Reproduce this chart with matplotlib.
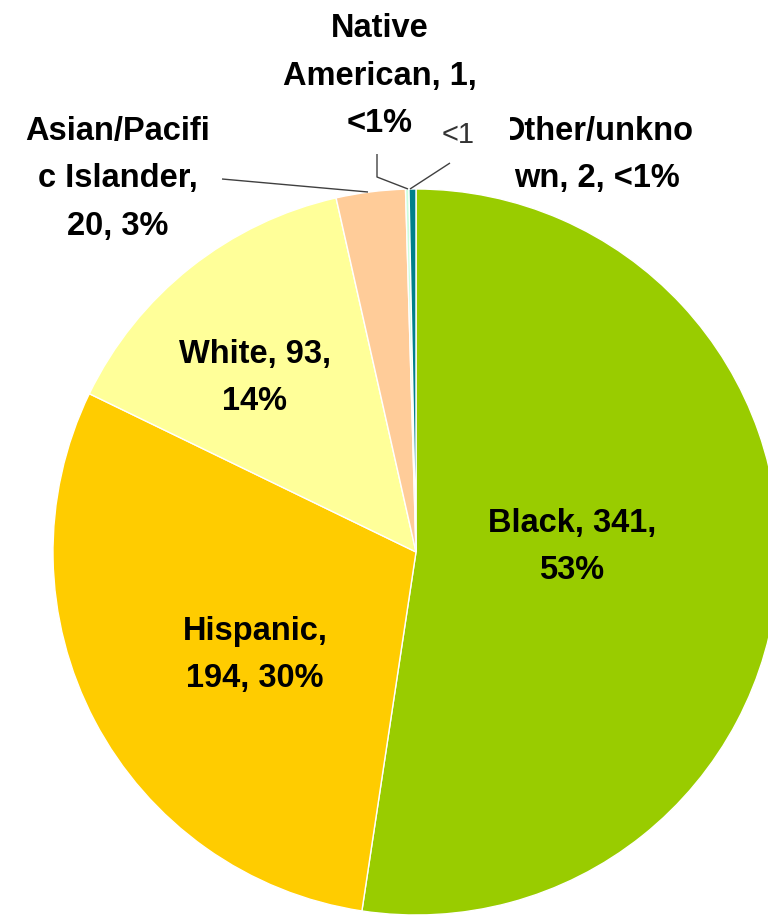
import numpy as np
import matplotlib
matplotlib.use("Agg")
import matplotlib.pyplot as plt
from matplotlib.patches import Rectangle

groups = ["Black", "Hispanic", "White", "Asian/Pacific Islander",
          "Native American", "Other/unknown"]
counts = [341, 194, 93, 20, 1, 2]
pct_text = ["53%", "30%", "14%", "3%", "<1%", "<1%"]
colors = ["#99CC00", "#FFCC00", "#FFFF99", "#FFCC99", "#CCFFDD", "#00808A"]

W, H = 768, 920
fig = plt.figure(figsize=(W / 100, H / 100), dpi=100)
ax = fig.add_axes([0, 0, 1, 1])

cx, cy, r = 416, H - 553, 363
ax.pie(counts, colors=colors, startangle=90, counterclock=False,
       center=(cx, cy), radius=r, frame=True,
       wedgeprops=dict(edgecolor="white", linewidth=1.0))
ax.set_xlim(0, W)
ax.set_ylim(0, H)
ax.set_aspect("equal")
ax.axis("off")

font = dict(family=["Liberation Sans", "DejaVu Sans"], fontsize=23.5,
            fontweight="bold", ha="center", va="center",
            multialignment="center", linespacing=1.68)

def lab(x, y, s):
    ax.text(x, H - y, s, **font)

def leader(xs, ys):
    ax.plot(xs, [H - v for v in ys], color="#404040", lw=1.0,
            solid_capstyle="butt")

lab(572, 547, f"{groups[0]}, {counts[0]},\n{pct_text[0]}")
lab(255, 655, f"{groups[1]},\n{counts[1]}, {pct_text[1]}")
lab(255, 378, f"{groups[2]}, {counts[2]},\n{pct_text[2]}")
lab(118, 179, f"Asian/Pacifi\nc Islander,\n{counts[3]}, {pct_text[3]}")
lab(380, 76, f"Native\nAmerican, {counts[4]},\n{pct_text[4]}")
lab(597, 155, f"Other/unkno\nwn, {counts[5]}, {pct_text[5]}")

# overlapping small label sits on top of the other/unknown text
ax.add_patch(Rectangle((474, H - 152), 36, 46, facecolor="white",
                       edgecolor="none", zorder=5))
ax.text(458, H - 135, "<1", family=["Liberation Sans", "DejaVu Sans"],
        fontsize=21, color="#333333", ha="center", va="center", zorder=6)

leader([222, 368], [180, 193])
leader([377, 377, 408], [155, 178, 190])
leader([450, 410], [164, 190])

fig.savefig("out.png", dpi=100)
